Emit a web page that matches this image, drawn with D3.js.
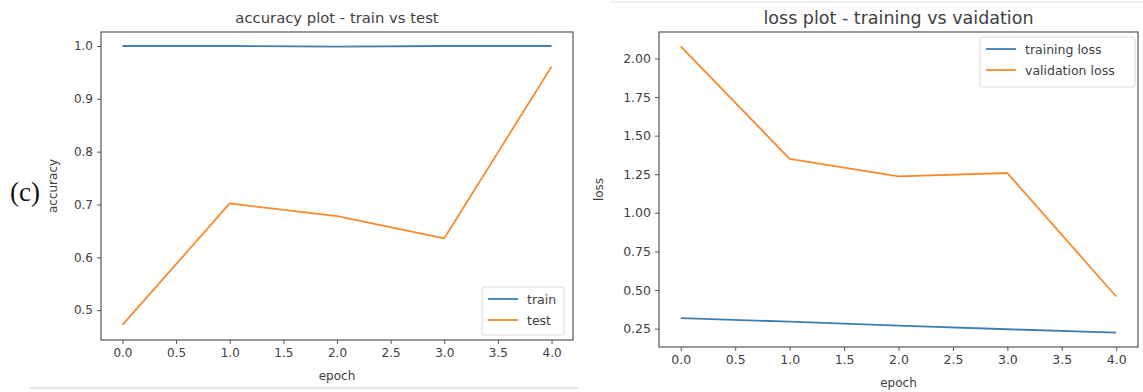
<!DOCTYPE html>
<html><head><meta charset="utf-8">
<script src="https://cdn.jsdelivr.net/npm/d3@7"></script>
<style>
body{margin:0;background:#fff;}
svg{display:block;font-family:"DejaVu Sans",sans-serif;}
</style></head><body>
<svg id="c" width="1143" height="392"></svg>
<script>
// ---- data ----
const epochs = [0, 1, 2, 3, 4];
const trainAcc = [1.0, 1.0, 0.999, 1.0, 1.0];
const testAcc = [0.472, 0.702, 0.678, 0.636, 0.961];
const trainLoss = [0.318, 0.295, 0.270, 0.246, 0.224];
const valLoss = [2.078, 1.349, 1.236, 1.258, 0.458];
const xTicks = [0, 0.5, 1, 1.5, 2, 2.5, 3, 3.5, 4];
const accTicks = [0.5, 0.6, 0.7, 0.8, 0.9, 1.0];
const lossTicks = [0.25, 0.5, 0.75, 1.0, 1.25, 1.5, 1.75, 2.0];

const BLUE = "#3f7fb3", ORANGE = "#f98a2c", TXT = "#404040", SPINE = "#555";
const svg = d3.select("#c");

// faint frame lines from the scanned figure
svg.append("line").attr("x1",30).attr("x2",578).attr("y1",388).attr("y2",388).attr("stroke","#e6e6e6").attr("stroke-width",2);
svg.append("line").attr("x1",610).attr("x2",1143).attr("y1",2).attr("y2",2).attr("stroke","#eeeeee").attr("stroke-width",2);

function panel(o){
  const g = svg.append("g");
  const x = d3.scaleLinear().domain([-0.2, 4.2]).range([o.l, o.r]);
  const y = d3.scaleLinear().domain(o.yDomain).range([o.b, o.t]);
  const xa = g.append("g").attr("transform",`translate(0,${o.b})`)
    .call(d3.axisBottom(x).tickValues(xTicks).tickFormat(d3.format(".1f")).tickSize(4).tickPadding(4));
  const ya = g.append("g").attr("transform",`translate(${o.l},0)`)
    .call(d3.axisLeft(y).tickValues(o.yTicks).tickFormat(d3.format(o.fmt)).tickSize(4).tickPadding(4));
  [xa, ya].forEach(a=>{
    a.select(".domain").remove();
    a.selectAll("line").attr("stroke",SPINE);
    a.selectAll("text").attr("fill",TXT).style("font-size",o.tickFs+"px").style("font-family","DejaVu Sans");
  });
  g.append("rect").attr("x",o.l).attr("y",o.t).attr("width",o.r-o.l).attr("height",o.b-o.t)
    .attr("fill","none").attr("stroke",SPINE).attr("stroke-width",1.2);
  const line = vals => d3.line().x((d,i)=>x(epochs[i])).y(d=>y(d))(vals);
  o.series.forEach(s=>{
    g.append("path").attr("d",line(s.values)).attr("fill","none")
      .attr("stroke",s.color).attr("stroke-width",1.8).attr("stroke-linejoin","round");
  });
  g.append("text").attr("x",(o.l+o.r)/2).attr("y",o.titleY).attr("text-anchor","middle")
    .attr("fill",TXT).style("font-size",o.titleFs+"px").text(o.title);
  g.append("text").attr("x",(o.l+o.r)/2).attr("y",o.b+40).attr("text-anchor","middle")
    .attr("fill",TXT).style("font-size","12px").text("epoch");
  g.append("text").attr("transform",`translate(${o.ylx},${(o.t+o.b)/2}) rotate(-90)`).attr("text-anchor","middle")
    .attr("fill",TXT).style("font-size","12px").text(o.ylabel);
  const L = o.legend;
  g.append("rect").attr("x",L.x).attr("y",L.y).attr("width",L.w).attr("height",L.h).attr("rx",3)
    .attr("fill","#fff").attr("stroke","#d8d8d8");
  o.series.forEach((s,i)=>{
    const yy = L.y + 12 + i*21;
    g.append("line").attr("x1",L.x+6).attr("x2",L.x+36).attr("y1",yy).attr("y2",yy)
      .attr("stroke",s.color).attr("stroke-width",1.8);
    g.append("text").attr("x",L.x+45).attr("y",yy+4.5).attr("fill",TXT).style("font-size","12.5px").text(s.name);
  });
}

panel({l:101, r:573, t:32, b:340, yDomain:[0.4435,1.0265], yTicks:accTicks, fmt:".1f",
  title:"accuracy plot - train vs test", titleFs:14.8, titleY:23, tickFs:12, ylabel:"accuracy", ylx:57,
  series:[{name:"train",values:trainAcc,color:BLUE},{name:"test",values:testAcc,color:ORANGE}],
  legend:{x:482,y:287,w:82,h:48}});
panel({l:659, r:1138, t:32, b:347, yDomain:[0.131,2.171], yTicks:lossTicks, fmt:".2f",
  title:"loss plot - training vs vaidation", titleFs:17.5, titleY:24, tickFs:12.5, ylabel:"loss", ylx:603,
  series:[{name:"training loss",values:trainLoss,color:BLUE},{name:"validation loss",values:valLoss,color:ORANGE}],
  legend:{x:980,y:37,w:155,h:50}});

svg.append("text").attr("x",10).attr("y",201).style("font-family","Liberation Serif, Times New Roman, serif")
  .style("font-size","27px").attr("fill","#111").text("(c)");
</script></body></html>
